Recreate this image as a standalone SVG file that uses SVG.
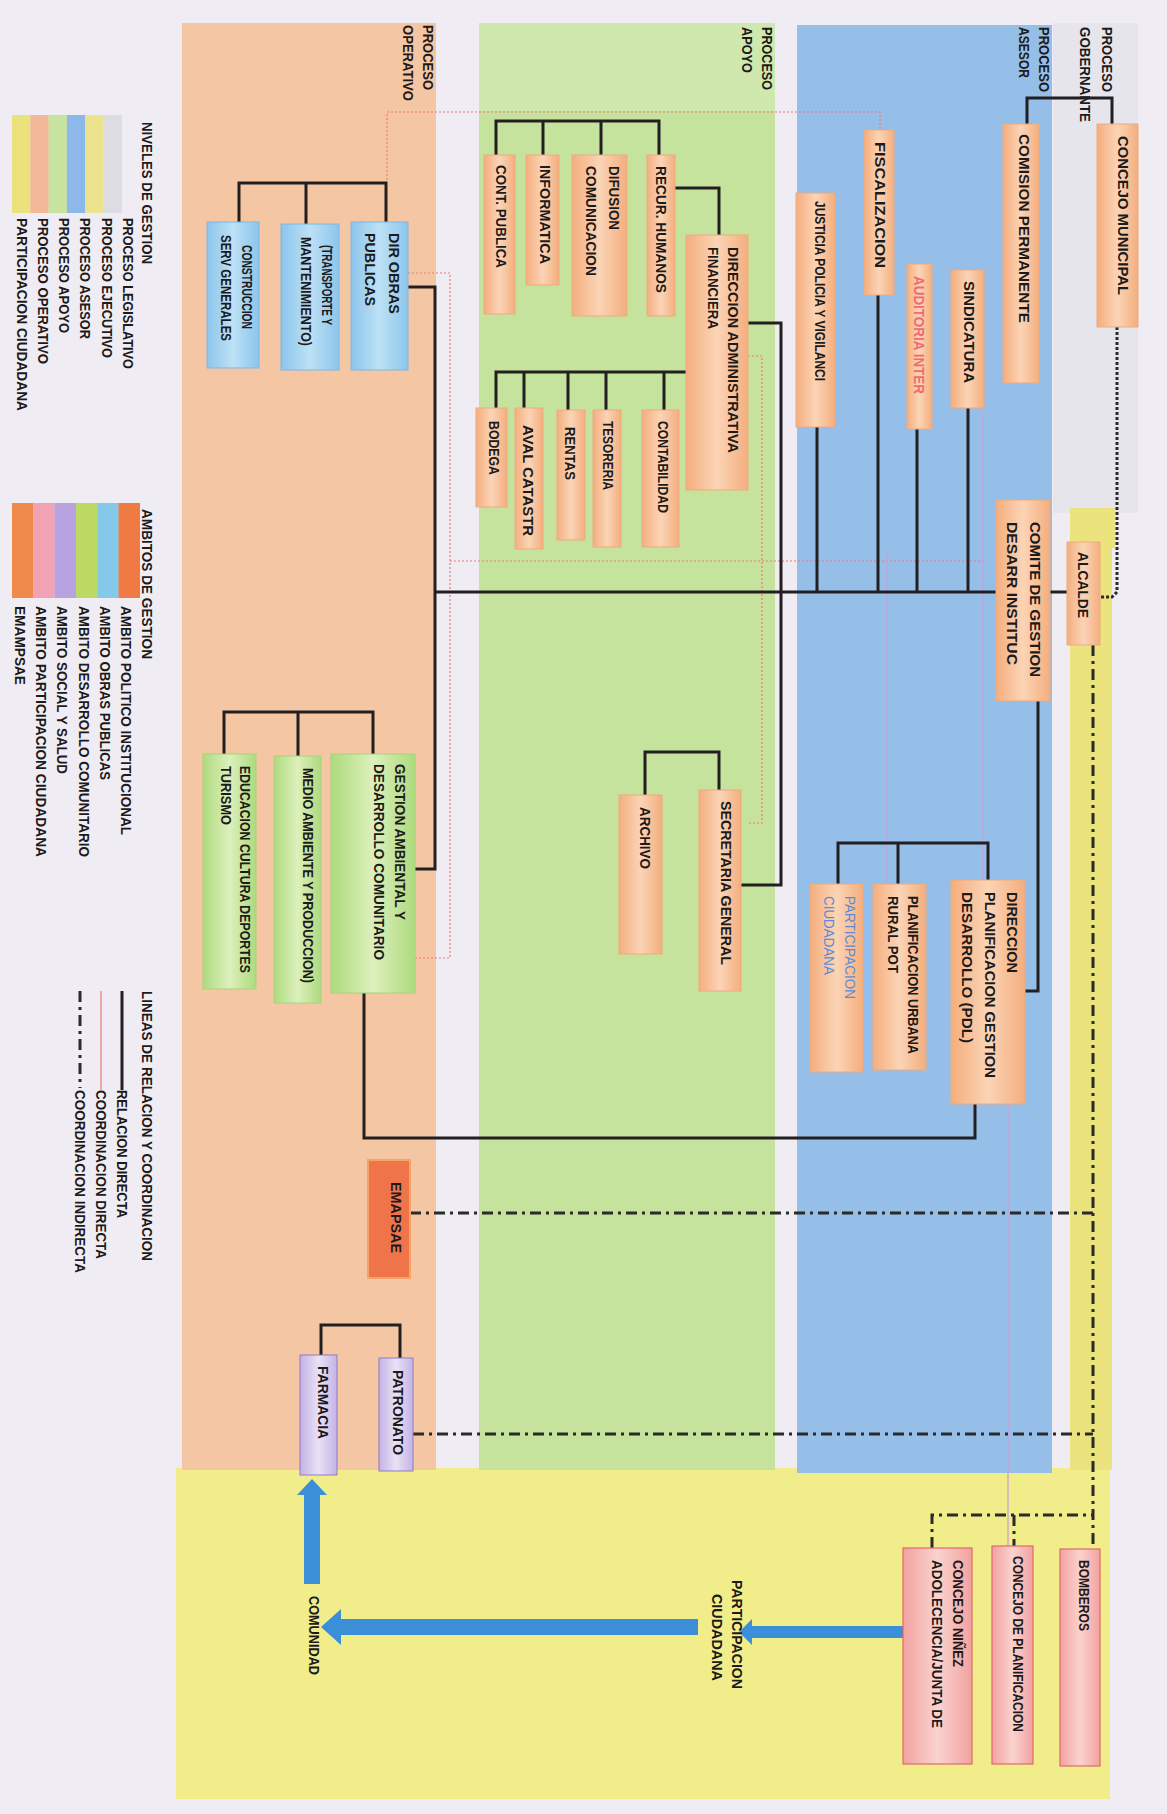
<svg xmlns="http://www.w3.org/2000/svg" width="1167" height="1814" viewBox="0 0 1167 1814">
<style>
.n{font-family:"Liberation Sans",Arial,sans-serif;font-weight:bold;font-size:15.5px;fill:#1d1a1a}
.l{font-family:"Liberation Sans",Arial,sans-serif;font-weight:bold;font-size:14px;fill:#1d1a1a}
.pe{fill:url(#gPe);stroke:#eeab7e;stroke-width:1}
.bl{fill:url(#gBl);stroke:#7fb6de;stroke-width:1}
.gr{fill:url(#gGr);stroke:#a6d47a;stroke-width:1}
.lv{fill:url(#gLv);stroke:#8f7cbc;stroke-width:1}
.pk{fill:url(#gPk);stroke:#e06a68;stroke-width:1.2}
.em{fill:#f0744a;stroke:#f4a464;stroke-width:2}
.c{fill:none;stroke:#231f20;stroke-width:3}
.dd{fill:none;stroke:#2a2a2a;stroke-width:3;stroke-dasharray:11 5 3 5}
.dt{fill:none;stroke:#2a2a2a;stroke-width:3;stroke-dasharray:3 2}
.rd{fill:none;stroke:#ee7a78;stroke-width:1.2;stroke-dasharray:2 2}
.lvl{fill:none;stroke:#caa2d4;stroke-width:1.3}
.ar{fill:#3b8fd9}
</style>
<defs>
<linearGradient id="gPe" x1="0" y1="0" x2="1" y2="0"><stop offset="0" stop-color="#f4ae7e"/><stop offset="0.5" stop-color="#fbd4b6"/><stop offset="1" stop-color="#f4ae7e"/></linearGradient>
<linearGradient id="gBl" x1="0" y1="0" x2="1" y2="0"><stop offset="0" stop-color="#8cc5ec"/><stop offset="0.5" stop-color="#bde1f5"/><stop offset="1" stop-color="#8cc5ec"/></linearGradient>
<linearGradient id="gGr" x1="0" y1="0" x2="1" y2="0"><stop offset="0" stop-color="#aeda7e"/><stop offset="0.5" stop-color="#dcf0bc"/><stop offset="1" stop-color="#aeda7e"/></linearGradient>
<linearGradient id="gLv" x1="0" y1="0" x2="1" y2="0"><stop offset="0" stop-color="#c4b2e6"/><stop offset="0.5" stop-color="#e9e2f6"/><stop offset="1" stop-color="#c4b2e6"/></linearGradient>
<linearGradient id="gPk" x1="0" y1="0" x2="1" y2="0"><stop offset="0" stop-color="#f2a2a0"/><stop offset="0.5" stop-color="#fad3cf"/><stop offset="1" stop-color="#f2a2a0"/></linearGradient>
</defs>

<g id="background">
<rect x="0" y="0" width="1167" height="1814" fill="#efedf3"/>
<rect x="1053" y="23" width="85" height="490" fill="#e6e5ec"/>
<rect x="176" y="1468" width="934" height="331" fill="#f1ed8a"/>
<rect x="1070" y="508" width="42" height="962" fill="#ebe47e"/>
<rect x="1073" y="508" width="42" height="40" fill="#ebe47e"/>
<rect x="182" y="23" width="254" height="1447" fill="#f5c6a3"/>
<rect x="479" y="23" width="296" height="1447" fill="#c6e39e"/>
<rect x="479" y="23" width="296" height="88" fill="#cfe8ae"/>
<rect x="797" y="25" width="255" height="1448" fill="#95bfe8"/>
</g>

<g id="band-labels">
<text class="l" transform="translate(423,25) rotate(90)" textLength="65" lengthAdjust="spacingAndGlyphs">PROCESO</text>
<text class="l" transform="translate(403,25) rotate(90)" textLength="76" lengthAdjust="spacingAndGlyphs">OPERATIVO</text>
<text class="l" transform="translate(762,27) rotate(90)" textLength="63" lengthAdjust="spacingAndGlyphs">PROCESO</text>
<text class="l" transform="translate(742,27) rotate(90)" textLength="46" lengthAdjust="spacingAndGlyphs">APOYO</text>
<text class="l" transform="translate(1039,27) rotate(90)" textLength="65" lengthAdjust="spacingAndGlyphs">PROCESO</text>
<text class="l" transform="translate(1019,27) rotate(90)" textLength="51" lengthAdjust="spacingAndGlyphs">ASESOR</text>
<text class="l" transform="translate(1102,27) rotate(90)" textLength="65" lengthAdjust="spacingAndGlyphs">PROCESO</text>
<text class="l" transform="translate(1080,27) rotate(90)" textLength="95" lengthAdjust="spacingAndGlyphs">GOBERNANTE</text>
</g>

<g id="connectors">
<path class="rd" d="M387,180 V112 H880 V130"/>
<path class="rd" d="M408,273 H450 V958 H415"/>
<path class="rd" d="M450,561 H985"/>
<path class="rd" d="M748,356 H762 V823 H747"/>
<path class="lvl" d="M887,551 V884"/>
<path class="lvl" d="M983,413 V880"/>
<path class="lvl" d="M1008,1104 V1546"/>

<path class="c" d="M239,222 V183 H386 V222 M306,183 V224"/>
<path class="c" d="M408,287 H435 V869 H415"/>
<path class="c" d="M435,592 H1067"/>
<path class="c" d="M224,754 V712 H373 V754 M298,712 V756"/>
<path class="c" d="M975,1104 V1138 H364 V993"/>
<path class="c" d="M496,155 V121 H659 V155 M543,121 V155 M601,121 V155"/>
<path class="c" d="M675,188 H719 V235"/>
<path class="c" d="M496,408 V372 H686 M524,372 V408 M568,372 V410 M606,372 V410 M664,372 V410"/>
<path class="c" d="M748,323 H781 V885 H741"/>
<path class="c" d="M645,795 V752 H719 V790"/>
<path class="c" d="M817,427 V592 M878,295 V592 M917,429 V592 M968,408 V592"/>
<path class="c" d="M1112,124 V98 H1027 V124"/>
<path class="c" d="M1038,701 V991 H1025"/>
<path class="c" d="M838,884 V843 H988 V880 M898,843 V884"/>
<path class="c" d="M400,1358 V1325 H321 V1355"/>

<path class="dt" d="M1117,327 V592 L1112,597 H1100"/>
<path class="dd" d="M1093,645 V1548"/>
<path class="dd" d="M410,1213 H1093"/>
<path class="dd" d="M413,1434 H1093"/>
<path class="dd" d="M932,1548 V1515 H1093 M1014,1515 V1546"/>

<polygon class="ar" points="903,1626 752,1626 752,1619 739,1632 752,1645 752,1638 903,1638"/>
<polygon class="ar" points="698,1619 341,1619 341,1609 321,1627 341,1645 341,1635 698,1635"/>
<polygon class="ar" points="304,1584 304,1495 297,1495 312,1479 327,1495 320,1495 320,1584"/>
</g>

<g id="dir-obras"><rect class="bl" x="351" y="222" width="57" height="148"/>
<text class="n" transform="translate(389,233) rotate(90)" textLength="81" lengthAdjust="spacingAndGlyphs">DIR OBRAS</text>
<text class="n" transform="translate(365,233) rotate(90)" textLength="73" lengthAdjust="spacingAndGlyphs">PUBLICAS</text></g>
<g id="transporte"><rect class="bl" x="281" y="224" width="58" height="146"/>
<text class="n" transform="translate(322,245) rotate(90)" textLength="80" lengthAdjust="spacingAndGlyphs">(TRANSPORTE Y</text>
<text class="n" transform="translate(301,237) rotate(90)" textLength="109" lengthAdjust="spacingAndGlyphs">MANTENIMIENTO)</text></g>
<g id="construccion"><rect class="bl" x="207" y="222" width="52" height="146"/>
<text class="n" transform="translate(242,245) rotate(90)" textLength="84" lengthAdjust="spacingAndGlyphs">CONSTRUCCION</text>
<text class="n" transform="translate(221,235) rotate(90)" textLength="106" lengthAdjust="spacingAndGlyphs">SERV GENERALES</text></g>
<g id="gestion-ambiental"><rect class="gr" x="331" y="754" width="84" height="239"/>
<text class="n" transform="translate(395,764) rotate(90)" textLength="156" lengthAdjust="spacingAndGlyphs">GESTION AMBIENTAL Y</text>
<text class="n" transform="translate(374,764) rotate(90)" textLength="196" lengthAdjust="spacingAndGlyphs">DESARROLLO COMUNITARIO</text></g>
<g id="medio-ambiente"><rect class="gr" x="274" y="756" width="47" height="247"/>
<text class="n" transform="translate(303,768) rotate(90)" textLength="215" lengthAdjust="spacingAndGlyphs">MEDIO AMBIENTE  Y PRODUCCION)</text></g>
<g id="educacion"><rect class="gr" x="203" y="754" width="53" height="235"/>
<text class="n" transform="translate(240,766) rotate(90)" textLength="207" lengthAdjust="spacingAndGlyphs">EDUCACION CULTURA  DEPORTES</text>
<text class="n" transform="translate(221,766) rotate(90)" textLength="59" lengthAdjust="spacingAndGlyphs">TURISMO</text></g>
<g id="emapsae"><rect class="em" x="368" y="1160" width="42" height="118"/>
<text class="n" transform="translate(391,1182) rotate(90)" textLength="71" lengthAdjust="spacingAndGlyphs">EMAPSAE</text></g>
<g id="patronato"><rect class="lv" x="379" y="1358" width="34" height="113"/>
<text class="n" transform="translate(393,1370) rotate(90)" textLength="85" lengthAdjust="spacingAndGlyphs">PATRONATO</text></g>
<g id="farmacia"><rect class="lv" x="300" y="1355" width="37" height="120"/>
<text class="n" transform="translate(318,1366) rotate(90)" textLength="73" lengthAdjust="spacingAndGlyphs">FARMACIA</text></g>

<g id="cont-publica"><rect class="pe" x="484" y="155" width="31" height="159"/>
<text class="n" transform="translate(496,165) rotate(90)" textLength="103" lengthAdjust="spacingAndGlyphs">CONT. PUBLICA</text></g>
<g id="informatica"><rect class="pe" x="526" y="155" width="33" height="130"/>
<text class="n" transform="translate(540,165) rotate(90)" textLength="99" lengthAdjust="spacingAndGlyphs">INFORMATICA</text></g>
<g id="difusion"><rect class="pe" x="572" y="155" width="55" height="161"/>
<text class="n" transform="translate(609,166) rotate(90)" textLength="64" lengthAdjust="spacingAndGlyphs">DIFUSION</text>
<text class="n" transform="translate(586,166) rotate(90)" textLength="110" lengthAdjust="spacingAndGlyphs">COMUNICACION</text></g>
<g id="recur-humanos"><rect class="pe" x="647" y="155" width="28" height="161"/>
<text class="n" transform="translate(656,166) rotate(90)" textLength="127" lengthAdjust="spacingAndGlyphs">RECUR. HUMANOS</text></g>
<g id="dir-admin"><rect class="pe" x="686" y="235" width="62" height="255"/>
<text class="n" transform="translate(728,247) rotate(90)" textLength="206" lengthAdjust="spacingAndGlyphs">DIRECCION  ADMINISTRATIVA</text>
<text class="n" transform="translate(708,247) rotate(90)" textLength="82" lengthAdjust="spacingAndGlyphs">FINANCIERA</text></g>
<g id="bodega"><rect class="pe" x="476" y="408" width="31" height="99"/>
<text class="n" transform="translate(489,421) rotate(90)" textLength="54" lengthAdjust="spacingAndGlyphs">BODEGA</text></g>
<g id="aval-catastr"><rect class="pe" x="515" y="408" width="28" height="141"/>
<text class="n" transform="translate(523,425) rotate(90)" textLength="111" lengthAdjust="spacingAndGlyphs">AVAL CATASTR</text></g>
<g id="rentas"><rect class="pe" x="557" y="410" width="28" height="130"/>
<text class="n" transform="translate(565,427) rotate(90)" textLength="53" lengthAdjust="spacingAndGlyphs">RENTAS</text></g>
<g id="tesoreria"><rect class="pe" x="593" y="410" width="28" height="137"/>
<text class="n" transform="translate(603,421) rotate(90)" textLength="69" lengthAdjust="spacingAndGlyphs">TESORERIA</text></g>
<g id="contabilidad"><rect class="pe" x="642" y="410" width="37" height="137"/>
<text class="n" transform="translate(658,421) rotate(90)" textLength="92" lengthAdjust="spacingAndGlyphs">CONTABILIDAD</text></g>
<g id="secretaria"><rect class="pe" x="699" y="790" width="42" height="201"/>
<text class="n" transform="translate(721,801) rotate(90)" textLength="164" lengthAdjust="spacingAndGlyphs">SECRETARIA GENERAL</text></g>
<g id="archivo"><rect class="pe" x="619" y="795" width="43" height="159"/>
<text class="n" transform="translate(640,807) rotate(90)" textLength="62" lengthAdjust="spacingAndGlyphs">ARCHIVO</text></g>

<g id="justicia"><rect class="pe" x="796" y="193" width="39" height="234"/>
<text class="n" transform="translate(815,201) rotate(90)" textLength="180" lengthAdjust="spacingAndGlyphs">JUSTICIA POLICIA Y VIGILANCI</text></g>
<g id="fiscalizacion"><rect class="pe" x="864" y="130" width="30" height="165"/>
<text class="n" transform="translate(875,142) rotate(90)" textLength="126" lengthAdjust="spacingAndGlyphs">FISCALIZACION</text></g>
<g id="auditoria"><rect class="pe" x="907" y="264" width="25" height="165"/>
<text class="n" style="fill:#ef6a72" transform="translate(914,276) rotate(90)" textLength="118" lengthAdjust="spacingAndGlyphs">AUDITORIA INTER</text></g>
<g id="sindicatura"><rect class="pe" x="951" y="270" width="33" height="138"/>
<text class="n" transform="translate(964,281) rotate(90)" textLength="102" lengthAdjust="spacingAndGlyphs">SINDICATURA</text></g>
<g id="comision"><rect class="pe" x="1003" y="124" width="36" height="259"/>
<text class="n" transform="translate(1019,134) rotate(90)" textLength="189" lengthAdjust="spacingAndGlyphs">COMISION PERMANENTE</text></g>
<g id="concejo-municipal"><rect class="pe" x="1097" y="124" width="41" height="203"/>
<text class="n" transform="translate(1118,136) rotate(90)" textLength="159" lengthAdjust="spacingAndGlyphs">CONCEJO MUNICIPAL</text></g>
<g id="comite"><rect class="pe" x="996" y="500" width="54" height="201"/>
<text class="n" transform="translate(1030,522) rotate(90)" textLength="155" lengthAdjust="spacingAndGlyphs">COMITE DE GESTION</text>
<text class="n" transform="translate(1007,522) rotate(90)" textLength="143" lengthAdjust="spacingAndGlyphs">DESARR INSTITUC</text></g>
<g id="alcalde"><rect class="pe" x="1067" y="542" width="33" height="103"/>
<text class="n" transform="translate(1078,552) rotate(90)" textLength="66" lengthAdjust="spacingAndGlyphs">ALCALDE</text></g>
<g id="dir-planificacion"><rect class="pe" x="951" y="880" width="74" height="224"/>
<text class="n" transform="translate(1007,892) rotate(90)" textLength="81" lengthAdjust="spacingAndGlyphs">DIRECCION</text>
<text class="n" transform="translate(985,892) rotate(90)" textLength="186" lengthAdjust="spacingAndGlyphs">PLANIFICACION GESTION</text>
<text class="n" transform="translate(962,892) rotate(90)" textLength="151" lengthAdjust="spacingAndGlyphs">DESARROLLO (PDL)</text></g>
<g id="planificacion-urbana"><rect class="pe" x="873" y="884" width="53" height="186"/>
<text class="n" transform="translate(908,896) rotate(90)" textLength="158" lengthAdjust="spacingAndGlyphs">PLANIFICACION  URBANA</text>
<text class="n" transform="translate(888,896) rotate(90)" textLength="77" lengthAdjust="spacingAndGlyphs">RURAL POT</text></g>
<g id="participacion"><rect class="pe" x="810" y="884" width="53" height="188"/>
<text class="n" style="fill:#5b8bd8;font-weight:normal" transform="translate(845,896) rotate(90)" textLength="103" lengthAdjust="spacingAndGlyphs">PARTICIPACION</text>
<text class="n" style="fill:#5b8bd8;font-weight:normal" transform="translate(824,896) rotate(90)" textLength="79" lengthAdjust="spacingAndGlyphs">CIUDADANA</text></g>

<g id="concejo-ninez"><rect class="pk" x="903" y="1548" width="69" height="216"/>
<text class="n" transform="translate(953,1560) rotate(90)" textLength="107" lengthAdjust="spacingAndGlyphs">CONCEJO NIÑEZ</text>
<text class="n" transform="translate(932,1560) rotate(90)" textLength="168" lengthAdjust="spacingAndGlyphs">ADOLECENCIA/JUNTA DE</text></g>
<g id="concejo-planificacion"><rect class="pk" x="992" y="1546" width="41" height="218"/>
<text class="n" transform="translate(1013,1556) rotate(90)" textLength="176" lengthAdjust="spacingAndGlyphs">CONCEJO DE PLANIFICACION</text></g>
<g id="bomberos"><rect class="pk" x="1060" y="1549" width="40" height="217"/>
<text class="n" transform="translate(1079,1560) rotate(90)" textLength="71" lengthAdjust="spacingAndGlyphs">BOMBEROS</text></g>

<g id="participacion-ciudadana-label">
<text class="l" transform="translate(732,1580) rotate(90)" textLength="109" lengthAdjust="spacingAndGlyphs">PARTICIPACION</text>
<text class="l" transform="translate(712,1594) rotate(90)" textLength="87" lengthAdjust="spacingAndGlyphs">CIUDADANA</text>
</g>
<g id="comunidad">
<text class="l" transform="translate(309,1596) rotate(90)" textLength="79" lengthAdjust="spacingAndGlyphs">COMUNIDAD</text>
</g>

<g id="legend">
<text class="l" transform="translate(142,122) rotate(90)" textLength="142" lengthAdjust="spacingAndGlyphs">NIVELES DE GESTION</text>
<rect x="12" y="115" width="18.5" height="98" fill="#ece27c"/>
<rect x="30.3" y="115" width="18.5" height="98" fill="#f3b898"/>
<rect x="48.6" y="115" width="18.5" height="98" fill="#c8e3a0"/>
<rect x="66.9" y="115" width="18.5" height="98" fill="#8db9ea"/>
<rect x="85.2" y="115" width="18.5" height="98" fill="#ebe38e"/>
<rect x="103.5" y="115" width="18.5" height="98" fill="#dcdce2"/>
<text class="l" transform="translate(123,218) rotate(90)" textLength="151" lengthAdjust="spacingAndGlyphs">PROCESO LEGISLATIVO</text>
<text class="l" transform="translate(102,218) rotate(90)" textLength="140" lengthAdjust="spacingAndGlyphs">PROCESO EJECUTIVO</text>
<text class="l" transform="translate(80,218) rotate(90)" textLength="121" lengthAdjust="spacingAndGlyphs">PROCESO ASESOR</text>
<text class="l" transform="translate(59,218) rotate(90)" textLength="115" lengthAdjust="spacingAndGlyphs">PROCESO APOYO</text>
<text class="l" transform="translate(38,218) rotate(90)" textLength="146" lengthAdjust="spacingAndGlyphs">PROCESO OPERATIVO</text>
<text class="l" transform="translate(17,218) rotate(90)" textLength="193" lengthAdjust="spacingAndGlyphs">PARTICIPACION CIUDADANA</text>

<text class="l" transform="translate(142,509) rotate(90)" textLength="150" lengthAdjust="spacingAndGlyphs">AMBITOS DE GESTION</text>
<rect x="12" y="503" width="21.5" height="95" fill="#f08a4c"/>
<rect x="33.3" y="503" width="21.5" height="95" fill="#f2a2b2"/>
<rect x="54.6" y="503" width="21.5" height="95" fill="#b9a2e0"/>
<rect x="75.9" y="503" width="21.5" height="95" fill="#bcd964"/>
<rect x="97.2" y="503" width="21.5" height="95" fill="#84c8ea"/>
<rect x="118.5" y="503" width="21.5" height="95" fill="#f07a44"/>
<text class="l" transform="translate(121,606) rotate(90)" textLength="229" lengthAdjust="spacingAndGlyphs">AMBITO POLITICO INSTITUCIONAL</text>
<text class="l" transform="translate(100,606) rotate(90)" textLength="174" lengthAdjust="spacingAndGlyphs">AMBITO OBRAS PUBLICAS</text>
<text class="l" transform="translate(79,606) rotate(90)" textLength="251" lengthAdjust="spacingAndGlyphs">AMBITO DESARROLLO COMUNITARIO</text>
<text class="l" transform="translate(57,606) rotate(90)" textLength="168" lengthAdjust="spacingAndGlyphs">AMBITO SOCIAL Y SALUD</text>
<text class="l" transform="translate(36,606) rotate(90)" textLength="251" lengthAdjust="spacingAndGlyphs">AMBITO PARTICIPACION CIUDADANA</text>
<text class="l" transform="translate(15,606) rotate(90)" textLength="79" lengthAdjust="spacingAndGlyphs">EMAMPSAE</text>

<text class="l" transform="translate(142,991) rotate(90)" textLength="270" lengthAdjust="spacingAndGlyphs">LINEAS DE RELACION Y COORDINACION</text>
<path class="c" d="M122,991 V1090"/>
<path d="M101,991 V1090" fill="none" stroke="#ee7a78" stroke-width="1.2"/>
<path class="dd" d="M80,991 V1088"/>
<text class="l" transform="translate(117,1090) rotate(90)" textLength="128" lengthAdjust="spacingAndGlyphs">RELACION DIRECTA</text>
<text class="l" transform="translate(96,1090) rotate(90)" textLength="169" lengthAdjust="spacingAndGlyphs">COORDINACION DIRECTA</text>
<text class="l" transform="translate(75,1090) rotate(90)" textLength="183" lengthAdjust="spacingAndGlyphs">COORDINACION INDIRECTA</text>
</g>
</svg>
